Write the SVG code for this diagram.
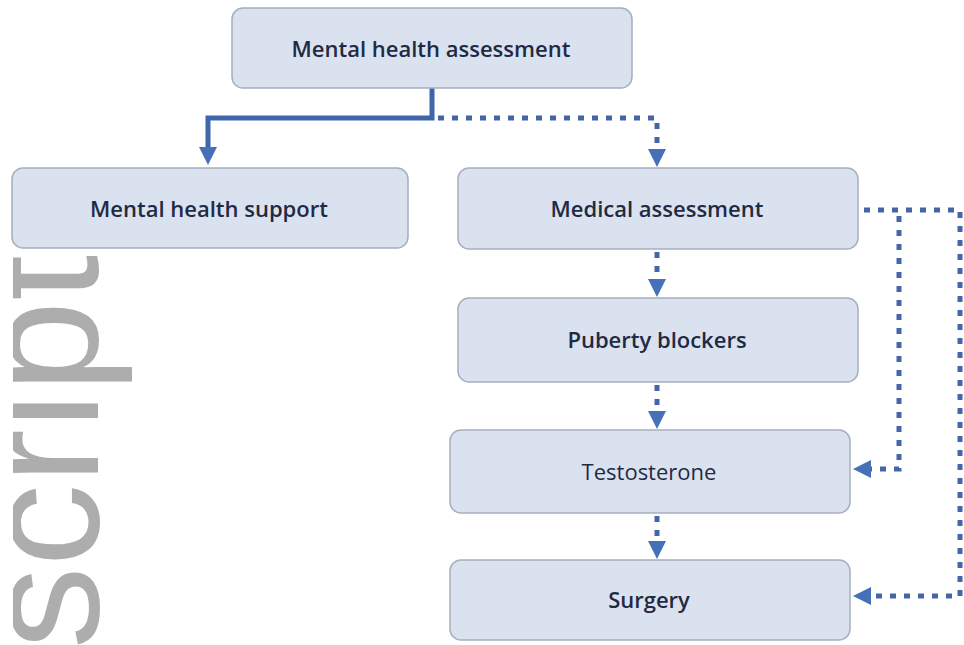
<svg xmlns="http://www.w3.org/2000/svg" width="964" height="645" viewBox="0 0 964 645">
  <defs>
    <style>
      .box { fill: #dbe2ef; stroke: #a7afbf; stroke-width: 1.5; }
      .lbl { font-family: "Open Sans", "Liberation Sans", sans-serif; font-size: 22px; font-weight: 600; fill: #1f2a44; text-anchor: middle; }
      .solid { fill: none; stroke: #3f66aa; stroke-width: 5; }
      .dot { fill: none; stroke: #4466a6; stroke-width: 5; stroke-dasharray: 6 8; }
      .wm { font-family: "Liberation Sans", Arial, sans-serif; font-size: 165px; fill: #adadad; }
    </style>
    <marker id="arr" markerUnits="userSpaceOnUse" markerWidth="18" markerHeight="18" refX="0" refY="9" orient="auto" viewBox="0 0 18 18">
      <path d="M0,0 L18,9 L0,18 z" fill="#4670b8"/>
    </marker>
    <clipPath id="wmclip">
      <rect x="13" y="0" width="951" height="645"/>
    </clipPath>
  </defs>
  <rect width="964" height="645" fill="#ffffff"/>

  <g id="watermark" clip-path="url(#wmclip)">
    <text class="wm" transform="translate(98,649) rotate(-90)">script</text>
  </g>

  <g id="connectors">
    <path class="solid" d="M432,88 V118 H208 V147" marker-end="url(#arr)"/>
    <path class="dot" d="M438,118 H657 V149" marker-end="url(#arr)"/>
    <path class="dot" d="M657,252 V279" marker-end="url(#arr)"/>
    <path class="dot" d="M657,385 V411" marker-end="url(#arr)"/>
    <path class="dot" d="M657,516 V541" marker-end="url(#arr)"/>
    <path class="dot" d="M864,210 H960 V596 H871" marker-end="url(#arr)"/>
    <path class="dot" d="M899,216 V469 H871" marker-end="url(#arr)"/>
  </g>

  <g id="mental-health-assessment">
    <rect class="box" x="232" y="8" width="400" height="80" rx="11"/>
    <text class="lbl" x="431" y="57">Mental health assessment</text>
  </g>
  <g id="mental-health-support">
    <rect class="box" x="12" y="168" width="396" height="80" rx="11"/>
    <text class="lbl" x="209" y="217">Mental health support</text>
  </g>
  <g id="medical-assessment">
    <rect class="box" x="458" y="168" width="400" height="81" rx="11"/>
    <text class="lbl" x="657" y="217">Medical assessment</text>
  </g>
  <g id="puberty-blockers">
    <rect class="box" x="458" y="298" width="400" height="84" rx="11"/>
    <text class="lbl" x="657" y="348">Puberty blockers</text>
  </g>
  <g id="testosterone">
    <rect class="box" x="450" y="430" width="400" height="83" rx="11"/>
    <text class="lbl" x="649" y="480" style="font-weight:400">Testosterone</text>
  </g>
  <g id="surgery">
    <rect class="box" x="450" y="560" width="400" height="80" rx="11"/>
    <text class="lbl" x="649" y="608">Surgery</text>
  </g>
</svg>
